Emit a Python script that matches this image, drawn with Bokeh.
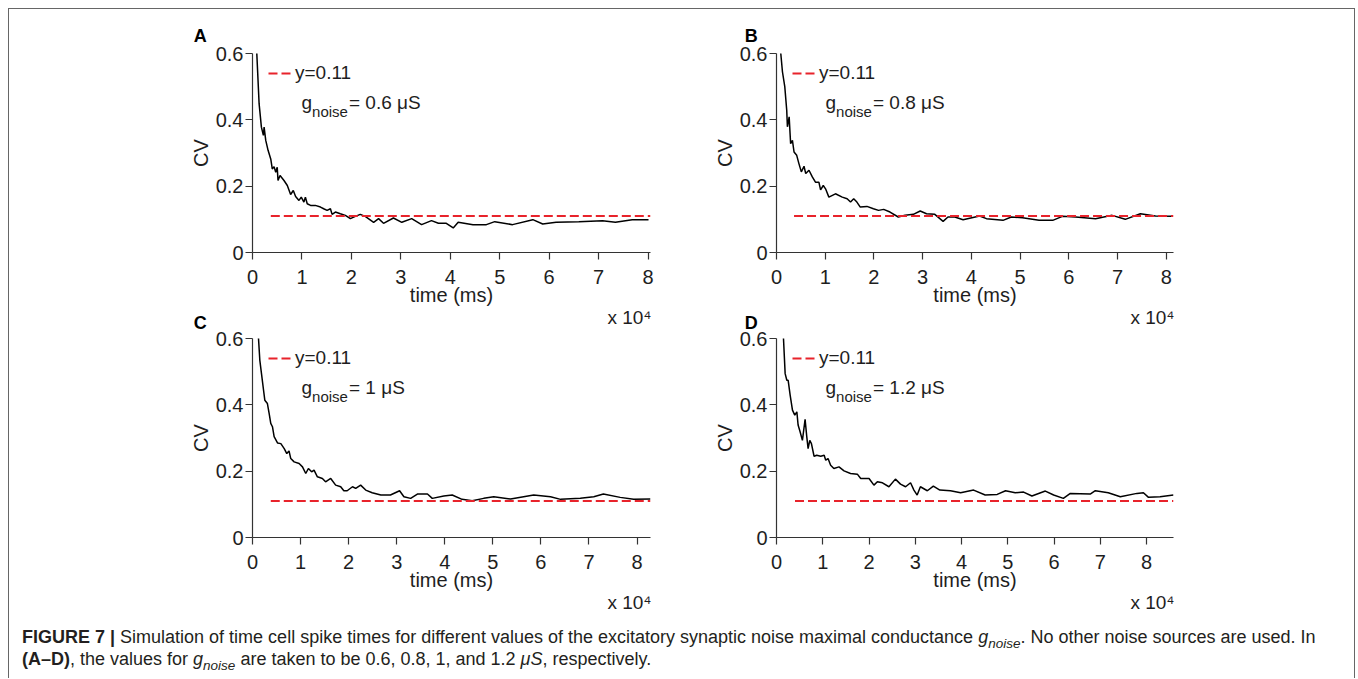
from bokeh.plotting import figure
from bokeh.models import Range1d, FixedTicker, Label, Legend, LegendItem, Div, Title
from bokeh.layouts import row, column
from bokeh.embed import file_html
from bokeh.resources import INLINE

# ---------------- data ----------------
panel_letters = ["A", "B", "C", "D"]
g_noise_labels = ["0.6", "0.8", "1", "1.2"]
ref_value = 0.11
ref_start = [3700, 3600, 3800, 4000]
t_max = [80500, 81500, 82800, 85800]
x_ticks = [0, 10000, 20000, 30000, 40000, 50000, 60000, 70000, 80000]
x_tick_labels = ["0", "1", "2", "3", "4", "5", "6", "7", "8"]
y_ticks = [0, 0.2, 0.4, 0.6]
y_tick_labels = ["0", "0.2", "0.4", "0.6"]

tA = [820, 870, 1340, 1800, 2200, 2350, 2680, 3150, 3690, 4000,
      4360, 4700, 5000, 5160, 5570, 6370, 7040, 7710, 8250, 8720,
      9400, 9860, 10400, 10700, 11070, 11740, 12700, 13750, 14400, 15090,
      15760, 16100, 16770, 17770, 18780, 19800, 20800, 21800, 22800, 24500,
      25500, 26500, 28500, 30200, 32200, 34200, 36200, 37600, 39200, 40600,
      41600, 44600, 47300, 49000, 52600, 56700, 58700, 61400, 66000, 70800,
      73400, 76800, 80100]
cvA = [0.7, 0.6, 0.448, 0.378, 0.353, 0.378, 0.338, 0.308, 0.282, 0.252,
       0.259, 0.242, 0.257, 0.217, 0.232, 0.217, 0.202, 0.175, 0.187, 0.169,
       0.157, 0.167, 0.152, 0.167, 0.147, 0.142, 0.142, 0.137, 0.132, 0.127,
       0.132, 0.115, 0.122, 0.117, 0.112, 0.102, 0.109, 0.115, 0.109, 0.091,
       0.102, 0.088, 0.104, 0.091, 0.102, 0.084, 0.096, 0.088, 0.088, 0.074,
       0.091, 0.084, 0.084, 0.093, 0.084, 0.099, 0.086, 0.091, 0.093, 0.096,
       0.091, 0.099, 0.099]

tB = [800, 880, 1220, 1700, 2100, 2240, 2600, 2900, 3270, 3600,
      4150, 4600, 5100, 5650, 6000, 6670, 7350, 8000, 8700, 9050,
      9600, 10070, 10750, 12100, 13500, 14500, 15200, 15850, 16500, 17200,
      18570, 19900, 20950, 22000, 23300, 25000, 26400, 28100, 29500, 30800,
      32500, 34200, 35200, 36600, 38300, 41700, 43100, 46500, 48200, 50500,
      53900, 56700, 58700, 61400, 65500, 68900, 71600, 74700, 77800, 81200]
cvB = [0.7, 0.6, 0.545, 0.5, 0.429, 0.379, 0.409, 0.328, 0.338, 0.303,
       0.293, 0.268, 0.243, 0.26, 0.238, 0.248, 0.228, 0.212, 0.212, 0.189,
       0.202, 0.192, 0.167, 0.177, 0.167, 0.162, 0.152, 0.162, 0.152, 0.137,
       0.139, 0.132, 0.127, 0.13, 0.122, 0.107, 0.112, 0.115, 0.125, 0.117,
       0.115, 0.094, 0.107, 0.107, 0.099, 0.110, 0.102, 0.097, 0.107, 0.105,
       0.097, 0.097, 0.109, 0.107, 0.102, 0.112, 0.1, 0.117, 0.11, 0.109]

tC = [1000, 1250, 1520, 1870, 2300, 2560, 3100, 3460, 3800, 4150,
      4500, 5200, 5900, 6600, 7130, 7600, 7960, 8660, 9700, 10400,
      11080, 11630, 12300, 12800, 13500, 14540, 15200, 16270, 17300, 18350,
      19000, 19700, 20800, 21470, 22500, 23550, 24900, 26700, 28700, 30600,
      31500, 32900, 34300, 36400, 37400, 39800, 41550, 43600, 45700, 48100,
      50200, 53700, 58500, 62000, 64100, 68200, 71000, 73000, 76500, 79300,
      82800]
cvC = [0.7, 0.6, 0.535, 0.494, 0.444, 0.414, 0.404, 0.374, 0.344, 0.334,
       0.304, 0.285, 0.283, 0.268, 0.253, 0.261, 0.238, 0.228, 0.223, 0.213,
       0.193, 0.208, 0.198, 0.203, 0.183, 0.178, 0.168, 0.178, 0.158, 0.153,
       0.141, 0.141, 0.153, 0.148, 0.158, 0.143, 0.135, 0.128, 0.128, 0.141,
       0.123, 0.118, 0.131, 0.131, 0.118, 0.125, 0.128, 0.115, 0.111, 0.118,
       0.123, 0.116, 0.128, 0.123, 0.115, 0.118, 0.123, 0.131, 0.121, 0.115,
       0.116]

tD = [1300, 1510, 1870, 2230, 2520, 2950, 3450, 3950, 4400, 4670,
      5100, 5600, 6180, 6540, 6830, 7190, 7550, 8120, 8700, 9560,
      10300, 10640, 11140, 11700, 12400, 13500, 14600, 16000, 17470, 18200,
      20000, 21060, 21800, 22900, 24300, 25700, 26800, 27900, 28970, 29700,
      30400, 31100, 32600, 33900, 35300, 37600, 39800, 42600, 45100, 47700,
      49500, 51600, 53400, 55200, 58100, 59900, 62000, 63500, 67800, 68900,
      71700, 74300, 77900, 79300, 80400, 82900, 85800]
cvD = [0.7, 0.6, 0.494, 0.474, 0.474, 0.429, 0.384, 0.369, 0.379, 0.339,
       0.319, 0.293, 0.356, 0.304, 0.268, 0.293, 0.283, 0.245, 0.248, 0.245,
       0.248, 0.233, 0.238, 0.218, 0.208, 0.213, 0.201, 0.193, 0.191, 0.178,
       0.178, 0.158, 0.168, 0.165, 0.153, 0.176, 0.161, 0.153, 0.165, 0.143,
       0.128, 0.153, 0.141, 0.155, 0.143, 0.141, 0.135, 0.143, 0.128, 0.13,
       0.141, 0.135, 0.137, 0.125, 0.14, 0.128, 0.118, 0.133, 0.131, 0.141,
       0.135, 0.123, 0.133, 0.135, 0.121, 0.123, 0.128]

series_t = [tA, tB, tC, tD]
series_cv = [cvA, cvB, cvC, cvD]

# ---------------- style ----------------
FONT = "Liberation Sans"
AX = "#333333"
TXT = "#1e1e1e"
RED = "#e8232b"


def make_panel(i, width, height, b_left, b_right, b_top, b_bottom,
               letter_dx, letter_standoff):
    xmax = t_max[i]
    p = figure(width=width, height=height, output_backend="svg",
               toolbar_location=None, x_range=Range1d(0, xmax),
               y_range=Range1d(0, 0.6), min_border_left=b_left,
               min_border_right=b_right, min_border_top=b_top,
               min_border_bottom=b_bottom, title=None)
    p.outline_line_color = None
    p.grid.visible = False
    p.background_fill_alpha = 0
    p.border_fill_alpha = 0

    # axes
    p.xaxis.ticker = FixedTicker(ticks=x_ticks)
    p.xaxis.major_label_overrides = dict(zip(x_ticks, x_tick_labels))
    p.yaxis.ticker = FixedTicker(ticks=y_ticks)
    p.yaxis.major_label_overrides = dict(zip(y_ticks, y_tick_labels))
    p.xaxis.axis_label = "time (ms)"
    p.yaxis.axis_label = "CV"
    for ax in (p.xaxis, p.yaxis):
        ax.axis_line_color = AX
        ax.axis_line_width = 1.2
        ax.major_tick_line_color = AX
        ax.major_tick_line_width = 1.2
        ax.major_tick_in = 0
        ax.major_tick_out = 7
        ax.minor_tick_line_color = None
        ax.major_label_text_font = FONT
        ax.major_label_text_font_size = "20px"
        ax.major_label_text_color = TXT
        ax.axis_label_text_font = FONT
        ax.axis_label_text_font_size = "20px"
        ax.axis_label_text_font_style = "normal"
        ax.axis_label_text_color = TXT
    p.xaxis.major_label_standoff = 10
    p.xaxis.axis_label_standoff = -3
    p.yaxis.major_label_standoff = 2
    p.yaxis.axis_label_standoff = 1

    # curve and reference line
    p.line(series_t[i], series_cv[i], line_color="black", line_width=1.5)
    ref = p.line([ref_start[i], xmax], [ref_value, ref_value],
                 line_color=RED, line_width=1.9, line_dash="9 4")

    legend = Legend(items=[LegendItem(label="y=0.11", renderers=[ref])],
                    location=(16, 168), padding=0, margin=0, spacing=0,
                    glyph_width=24, glyph_height=20, label_height=20,
                    label_standoff=3, label_text_font=FONT,
                    label_text_font_size="19px", label_text_color=TXT,
                    border_line_color=None, background_fill_alpha=0)
    p.add_layout(legend)

    common = dict(text_font=FONT, text_color=TXT, text_baseline="alphabetic")
    p.add_layout(Label(x=0, y=0.6, x_offset=49, y_offset=-49, text="g",
                       text_font_size="19px", **common))
    p.add_layout(Label(x=0, y=0.6, x_offset=59.6, y_offset=-58.3, text="noise",
                       text_font_size="15px", **common))
    p.add_layout(Label(x=0, y=0.6, x_offset=96.5, y_offset=-49,
                       text="= " + g_noise_labels[i] + " \u03bcS",
                       text_font_size="19px", **common))

    # panel letter (above) and x 10^4 multiplier (below the x axis)
    p.add_layout(Title(text=panel_letters[i], align="left", offset=letter_dx,
                       standoff=letter_standoff, text_font=FONT,
                       text_font_size="18px", text_font_style="bold",
                       text_color="black"), "above")
    p.add_layout(Title(text="x 10\u2074", align="right", offset=-1,
                       vertical_align="top", standoff=-4, text_font=FONT,
                       text_font_size="19px", text_font_style="normal",
                       text_color=TXT), "below")
    return p


pA = make_panel(0, 681, 334, 243, 40, 44, 91, -58.7, 15)
pB = make_panel(1, 664, 334, 86, 181, 44, 91, -31.7, 15)
pC = make_panel(2, 681, 324, 243, 40, 38, 87, -58.7, 12)
pD = make_panel(3, 664, 324, 86, 181, 38, 87, -31.7, 12)

sub = '<sub style="font-size:0.75em;line-height:0">noise</sub>'
caption_html = (
    '<b>FIGURE 7 |</b> Simulation of time cell spike times for different values '
    'of the excitatory synaptic noise maximal conductance <i>g' + sub + '</i>. '
    'No other noise sources are used. In<br>'
    '<b>(A\u2013D)</b>, the values for <i>g' + sub + '</i> are taken to be '
    '0.6, 0.8, 1, and 1.2 <i>\u03bcS</i>, respectively.'
)
caption = Div(text=caption_html, width=1345, height=54, margin=(0, 0, 0, 0),
              styles={"font-family": FONT, "font-size": "18px",
                      "line-height": "22px", "color": "#231f20",
                      "padding-top": "2px", "padding-left": "13px",
                      "box-sizing": "border-box"})

row1 = row(pA, pB, margin=(0, 0, 0, 0))
row2 = row(pC, pD, margin=(-43, 0, 0, 0))
layout = column(row1, row2, caption, margin=(8, 0, 0, 8),
                styles={"border": "1px solid #666666",
                        "border-bottom": "none"})

open("out.html", "w").write(file_html(layout, INLINE))
